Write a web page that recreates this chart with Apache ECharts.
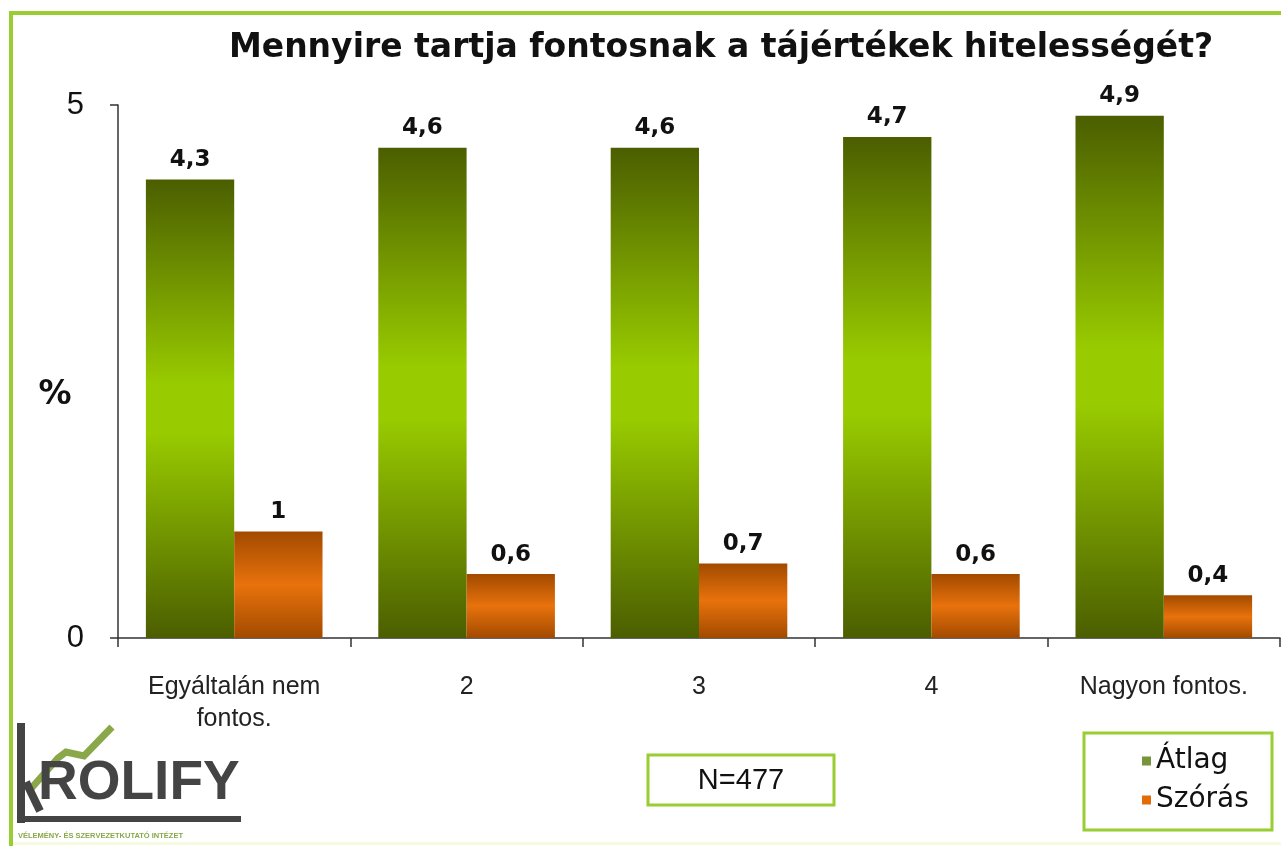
<!DOCTYPE html>
<html>
<head>
<meta charset="utf-8">
<title>Mennyire tartja fontosnak a tájértékek hitelességét?</title>
<script src="https://cdn.jsdelivr.net/npm/echarts@6/dist/echarts.min.js"></script>
<style>
  html, body { margin: 0; padding: 0; background: #fff; }
  #chart { width: 1281px; height: 846px; }
</style>
</head>
<body>
<div id="chart"></div>
<script>
const categories = ['Egyáltalán nem\nfontos.', '2', '3', '4', 'Nagyon fontos.'];
const atlag = [4.3, 4.6, 4.6, 4.7, 4.9];
const szoras = [1, 0.6, 0.7, 0.6, 0.4];
const seriesNames = ['Átlag', 'Szórás'];
const yTicks = [0, 5];

const frameGreen = '#9acd32';

// vertical gradients: dark at the ends, bright in the middle
const greenFill = new echarts.graphic.LinearGradient(0, 0, 0, 1, [
  { offset: 0, color: '#4b5e00' },
  { offset: 0.45, color: '#99cc00' },
  { offset: 0.55, color: '#99cc00' },
  { offset: 1, color: '#4b5e00' },
]);
const orangeFill = new echarts.graphic.LinearGradient(0, 0, 0, 1, [
  { offset: 0, color: '#a24a00' },
  { offset: 0.5, color: '#e8720c' },
  { offset: 1, color: '#a24a00' },
]);

const labelStyle = {
  show: true,
  position: 'top',
  distance: 8,
  fontFamily: 'DejaVu Sans',
  fontWeight: 'bold',
  fontSize: 23,
  color: '#111',
  formatter: p => String(p.value).replace('.', ','),
};

const chart = echarts.init(document.getElementById('chart'));

chart.setOption({
  backgroundColor: '#fff',
  animation: false,
  title: {
    text: 'Mennyire tartja fontosnak a tájértékek hitelességét?',
    left: 716,
    top: 27,
    textAlign: 'center',
    textStyle: {
      fontFamily: 'DejaVu Sans',
      fontWeight: 'bold',
      fontSize: 33,
      color: '#111',
    },
  },
  legend: {
    orient: 'vertical',
    left: 1137,
    top: 742,
    itemWidth: 9,
    itemHeight: 9,
    itemGap: 11,
    itemTextGap: 4,
    icon: 'rect',
    textStyle: {
      fontFamily: 'DejaVu Sans',
      fontSize: 28,
      color: '#111',
    },
    data: [
      { name: seriesNames[0], itemStyle: { color: '#77933c' } },
      { name: seriesNames[1], itemStyle: { color: '#e36c09' } },
    ],
  },
  grid: {
    left: 118,
    right: 1,
    top: 105,
    bottom: 208,
  },
  xAxis: {
    type: 'category',
    data: categories,
    axisLine: { lineStyle: { color: '#333', width: 1.5 } },
    axisTick: { show: true, length: 9, lineStyle: { color: '#333', width: 1.5 } },
    axisLabel: {
      margin: 33,
      fontFamily: 'Liberation Sans',
      fontSize: 25,
      lineHeight: 32,
      color: '#222',
    },
  },
  yAxis: {
    type: 'value',
    min: yTicks[0],
    max: yTicks[1],
    interval: yTicks[1] - yTicks[0],
    axisLine: { show: true, lineStyle: { color: '#333', width: 1.5 } },
    axisTick: { show: true, length: 8, lineStyle: { color: '#333', width: 1.5 } },
    axisLabel: {
      margin: 34,
      fontFamily: 'Liberation Sans',
      fontSize: 31,
      color: '#111',
    },
    splitLine: { show: false },
  },
  series: [
    {
      name: seriesNames[0],
      type: 'bar',
      data: atlag,
      barGap: '0%',
      barCategoryGap: '24%',
      itemStyle: { color: greenFill },
      label: labelStyle,
    },
    {
      name: seriesNames[1],
      type: 'bar',
      data: szoras,
      itemStyle: { color: orangeFill },
      label: labelStyle,
    },
  ],
  graphic: [
    // outer frame (right and bottom run off the picture)
    {
      type: 'rect',
      z: -10,
      shape: { x: 11, y: 13, width: 1300, height: 860 },
      style: { fill: null, stroke: frameGreen, lineWidth: 4 },
    },
    {
      type: 'rect',
      z: -10,
      shape: { x: 13, y: 842, width: 1268, height: 3 },
      style: { fill: '#f6fbe0' },
    },
    // y axis title
    {
      type: 'text',
      x: 55,
      y: 395,
      style: {
        text: '%',
        font: 'bold 33px "DejaVu Sans"',
        fill: '#111',
        align: 'center',
        verticalAlign: 'middle',
      },
    },
    // N box
    {
      type: 'rect',
      shape: { x: 648, y: 755, width: 186, height: 50 },
      style: { fill: '#fff', stroke: frameGreen, lineWidth: 3 },
    },
    {
      type: 'text',
      x: 741,
      y: 781,
      style: {
        text: 'N=477',
        font: '29px "Liberation Sans"',
        fill: '#111',
        align: 'center',
        verticalAlign: 'middle',
      },
    },
    // legend box
    {
      type: 'rect',
      shape: { x: 1084, y: 733, width: 188, height: 97 },
      style: { fill: null, stroke: frameGreen, lineWidth: 3 },
    },
    // logo
    {
      type: 'group',
      children: [
        {
          type: 'polyline',
          shape: { points: [[28, 792], [58, 758], [66, 752], [84, 756], [112, 727]] },
          style: { stroke: '#8aa84a', lineWidth: 7, fill: null },
        },
        {
          type: 'rect',
          shape: { x: 17, y: 723, width: 8, height: 100 },
          style: { fill: '#444' },
        },
        {
          type: 'rect',
          shape: { x: 17, y: 816, width: 224, height: 6 },
          style: { fill: '#444' },
        },
        {
          type: 'polyline',
          shape: { points: [[26, 782], [40, 811]] },
          style: { stroke: '#444', lineWidth: 8, fill: null },
        },
        {
          type: 'text',
          x: 38,
          y: 811,
          style: {
            text: 'ROLIFY',
            font: 'bold 55px "Liberation Sans"',
            fill: '#444',
            align: 'left',
            verticalAlign: 'bottom',
          },
        },
        {
          type: 'text',
          x: 18,
          y: 836,
          style: {
            text: 'VÉLEMÉNY- ÉS SZERVEZETKUTATÓ INTÉZET',
            font: 'bold 7.5px "Liberation Sans"',
            fill: '#8aa84a',
            align: 'left',
            verticalAlign: 'middle',
          },
        },
      ],
    },
  ],
});
</script>
</body>
</html>
